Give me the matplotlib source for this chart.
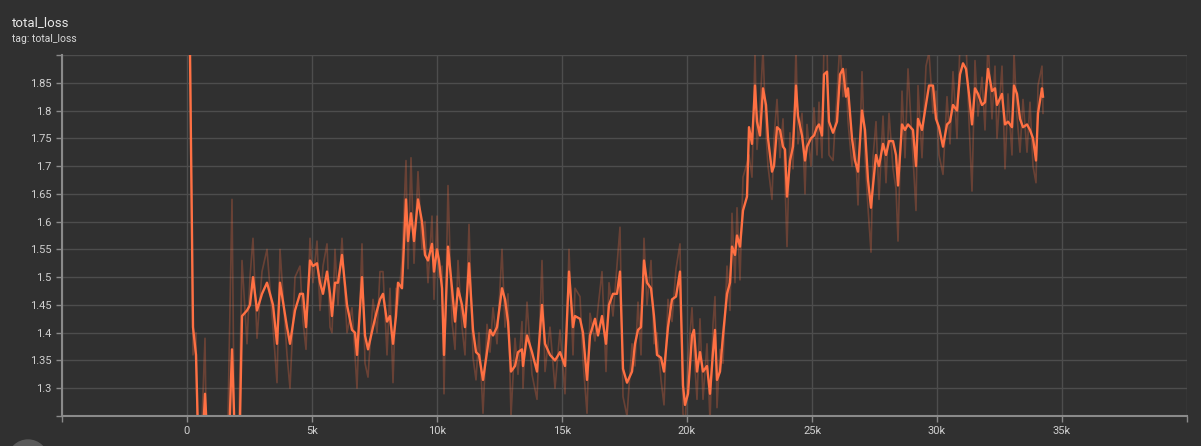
import numpy as np
import matplotlib
matplotlib.use("Agg")
import matplotlib.pyplot as plt
from matplotlib.patches import Ellipse

# smoothed total_loss (step, value)
steps = [
    0, 120, 240, 360, 440, 600, 720, 800, 1000, 1320,
    1640, 1800, 1920, 2080, 2200, 2400, 2520, 2640, 2800, 3000,
    3200, 3440, 3600, 3720, 4000, 4120, 4320, 4520, 4640, 4760,
    4920, 5040, 5200, 5320, 5440, 5600, 5720, 5800, 5920, 6040,
    6200, 6400, 6600, 6720, 6800, 7000, 7120, 7240, 7440, 7600,
    7720, 7840, 8000, 8120, 8240, 8360, 8440, 8600, 8760, 8840,
    8960, 9080, 9240, 9400, 9520, 9640, 9800, 9880, 10000, 10080,
    10200, 10280, 10440, 10600, 10720, 10840, 11000, 11120, 11280, 11440,
    11560, 11680, 11840, 12000, 12120, 12240, 12400, 12600, 12720, 12840,
    12960, 13120, 13240, 13400, 13440, 13600, 13800, 14000, 14200, 14320,
    14520, 14720, 14920, 15120, 15280, 15440, 15520, 15720, 15840, 16000,
    16120, 16320, 16440, 16600, 16760, 16880, 17040, 17200, 17320, 17440,
    17600, 17800, 17920, 18040, 18160, 18280, 18400, 18560, 18680, 18800,
    18960, 19080, 19240, 19400, 19560, 19720, 19840, 19920, 20040, 20200,
    20280, 20400, 20520, 20640, 20800, 20920, 21040, 21120, 21200, 21320,
    21440, 21600, 21720, 21800, 21920, 22000, 22120, 22240, 22400, 22480,
    22600, 22720, 22800, 22920, 23040, 23160, 23240, 23400, 23480, 23600,
    23720, 23840, 23920, 24000, 24120, 24240, 24360, 24440, 24600, 24720,
    24800, 24960, 25080, 25200, 25280, 25400, 25480, 25600, 25680, 25840,
    26000, 26120, 26240, 26360, 26440, 26600, 26720, 26840, 27000, 27120,
    27240, 27360, 27440, 27560, 27680, 27840, 27960, 28080, 28240, 28360,
    28440, 28600, 28720, 28840, 29040, 29160, 29240, 29400, 29560, 29680,
    29840, 29960, 30080, 30240, 30400, 30520, 30640, 30800, 30920, 31040,
    31160, 31280, 31400, 31520, 31640, 31800, 31920, 32040, 32200, 32320,
    32400, 32600, 32720, 32840, 33000, 33080, 33200, 33320, 33440, 33600,
    33720, 33840, 33960, 34040, 34200, 34240,
]
smoothed = [
    2.40, 1.90, 1.41, 1.36, 1.22, 1.18, 1.29, 1.22, 1.10, 1.05,
    1.15, 1.37, 1.20, 1.15, 1.43, 1.44, 1.45, 1.50, 1.44, 1.47,
    1.49, 1.45, 1.38, 1.49, 1.41, 1.38, 1.44, 1.47, 1.47, 1.41,
    1.53, 1.52, 1.525, 1.49, 1.47, 1.51, 1.47, 1.43, 1.49, 1.49,
    1.54, 1.45, 1.405, 1.40, 1.36, 1.50, 1.395, 1.37, 1.41, 1.44,
    1.46, 1.47, 1.42, 1.43, 1.38, 1.43, 1.49, 1.48, 1.64, 1.565,
    1.615, 1.565, 1.64, 1.60, 1.54, 1.53, 1.56, 1.51, 1.55, 1.53,
    1.48, 1.36, 1.555, 1.48, 1.42, 1.48, 1.45, 1.41, 1.525, 1.405,
    1.365, 1.36, 1.315, 1.365, 1.405, 1.395, 1.41, 1.48, 1.46, 1.42,
    1.33, 1.34, 1.365, 1.37, 1.34, 1.395, 1.365, 1.33, 1.45, 1.38,
    1.36, 1.35, 1.365, 1.34, 1.51, 1.41, 1.43, 1.425, 1.40, 1.315,
    1.395, 1.425, 1.395, 1.43, 1.38, 1.45, 1.47, 1.47, 1.51, 1.335,
    1.31, 1.33, 1.38, 1.405, 1.41, 1.53, 1.49, 1.48, 1.43, 1.36,
    1.355, 1.33, 1.41, 1.46, 1.465, 1.51, 1.305, 1.27, 1.29, 1.395,
    1.405, 1.33, 1.365, 1.33, 1.34, 1.29, 1.365, 1.405, 1.315, 1.33,
    1.395, 1.47, 1.49, 1.555, 1.54, 1.575, 1.555, 1.62, 1.645, 1.77,
    1.74, 1.845, 1.78, 1.755, 1.84, 1.81, 1.75, 1.69, 1.70, 1.77,
    1.765, 1.735, 1.73, 1.645, 1.71, 1.735, 1.845, 1.79, 1.755, 1.71,
    1.735, 1.75, 1.755, 1.77, 1.775, 1.755, 1.865, 1.87, 1.78, 1.76,
    1.78, 1.865, 1.875, 1.825, 1.84, 1.75, 1.71, 1.69, 1.80, 1.765,
    1.675, 1.625, 1.665, 1.72, 1.70, 1.74, 1.72, 1.745, 1.745, 1.72,
    1.665, 1.775, 1.765, 1.775, 1.765, 1.70, 1.785, 1.765, 1.81, 1.845,
    1.845, 1.785, 1.77, 1.735, 1.775, 1.78, 1.81, 1.80, 1.865, 1.885,
    1.875, 1.83, 1.775, 1.84, 1.83, 1.81, 1.815, 1.875, 1.835, 1.84,
    1.81, 1.83, 1.775, 1.78, 1.77, 1.845, 1.83, 1.785, 1.77, 1.775,
    1.765, 1.75, 1.71, 1.795, 1.84, 1.825,
]
# how far the raw (unsmoothed) points sit from the smoothed curve
raw_offset = [
    0.30, 0.05, -0.05, 0.04, -0.10, 0.06, 0.10, -0.10, 0.00, 0.05,
    0.10, 0.27, -0.10, 0.10, 0.10, -0.06, 0.05, 0.07, -0.05, 0.04,
    0.06, -0.04, -0.07, 0.06, -0.05, -0.08, 0.06, 0.05, -0.05, -0.04,
    0.04, -0.03, 0.04, -0.05, 0.05, 0.05, -0.06, -0.03, 0.06, -0.04,
    0.03, -0.05, 0.04, -0.04, -0.06, 0.06, -0.05, -0.05, 0.05, -0.04,
    0.05, 0.04, -0.06, 0.05, -0.07, 0.05, -0.04, 0.05, 0.07, -0.05,
    0.10, -0.04, 0.05, -0.05, 0.06, -0.04, 0.05, -0.05, 0.06, -0.03,
    0.04, -0.07, 0.11, -0.06, -0.05, 0.05, -0.04, -0.05, 0.07, -0.05,
    -0.05, 0.04, -0.06, 0.05, -0.04, 0.05, -0.03, 0.07, -0.05, 0.05,
    -0.08, 0.05, -0.04, 0.05, -0.04, 0.06, -0.04, -0.05, 0.08, -0.05,
    0.05, -0.05, 0.04, -0.05, 0.04, -0.05, 0.05, 0.04, -0.05, -0.06,
    0.04, -0.04, 0.05, 0.08, -0.05, 0.04, -0.04, 0.05, 0.08, -0.05,
    -0.06, 0.05, -0.04, 0.05, -0.05, 0.04, -0.04, 0.05, -0.05, 0.04,
    -0.04, -0.06, 0.05, -0.04, 0.05, 0.05, -0.05, -0.04, 0.06, 0.05,
    -0.04, -0.05, 0.06, -0.05, 0.04, -0.05, 0.05, 0.06, -0.05, 0.04,
    -0.05, 0.05, -0.05, 0.06, -0.05, 0.05, -0.06, 0.06, 0.06, -0.05,
    -0.06, 0.06, -0.05, 0.05, 0.07, -0.05, -0.05, -0.05, 0.05, 0.05,
    -0.05, 0.05, -0.06, -0.09, 0.05, -0.04, 0.07, -0.05, 0.04, -0.06,
    0.04, -0.05, 0.05, -0.05, 0.04, -0.04, 0.06, 0.05, -0.06, -0.05,
    0.05, 0.06, -0.05, 0.05, -0.06, -0.05, 0.04, -0.06, 0.07, -0.05,
    -0.05, -0.08, 0.05, 0.06, -0.06, 0.05, -0.05, 0.05, -0.05, -0.06,
    -0.10, 0.06, -0.05, 0.10, -0.05, -0.08, 0.06, -0.05, 0.07, 0.06,
    -0.05, 0.05, -0.05, -0.05, 0.05, -0.04, 0.06, -0.05, 0.06, 0.05,
    0.05, -0.05, -0.12, 0.05, -0.04, 0.05, -0.05, 0.05, -0.05, 0.04,
    -0.06, 0.05, -0.08, 0.05, -0.05, 0.06, -0.04, -0.06, 0.05, -0.05,
    0.05, -0.05, -0.04, 0.05, 0.04, -0.03,
]

x_ticks = [-5000, 0, 5000, 10000, 15000, 20000, 25000, 30000, 35000, 40000]
x_labels = ["", "0", "5k", "10k", "15k", "20k", "25k", "30k", "35k", ""]
y_ticks = [1.25, 1.3, 1.35, 1.4, 1.45, 1.5, 1.55, 1.6, 1.65, 1.7, 1.75, 1.8, 1.85, 1.9]
y_labels = ["", "1.3", "1.35", "1.4", "1.45", "1.5", "1.55", "1.6", "1.65", "1.7",
            "1.75", "1.8", "1.85", ""]

bg = "#303030"
orange = "#ff7043"

plt.rcParams["font.family"] = ["Roboto", "DejaVu Sans"]

fig = plt.figure(figsize=(12.01, 4.46), dpi=100, facecolor=bg)
ax = fig.add_axes([62 / 1201, 30 / 446, 1125 / 1201, 361 / 446])
ax.set_facecolor(bg)

s = np.array(steps)
v = np.array(smoothed)
raw = v + np.array(raw_offset)

ax.plot(s, raw, color=orange, alpha=0.28, lw=1.2)
ax.plot(s, v, color=orange, lw=1.7)

ax.set_xlim(-5000, 40000)
ax.set_ylim(1.25, 1.9)
ax.set_xticks(x_ticks)
ax.set_xticklabels(x_labels)
ax.set_yticks(y_ticks)
ax.set_yticklabels(y_labels)

ax.grid(True, color="#4d4d4d", lw=1)
ax.set_axisbelow(True)
for side in ["top", "right"]:
    ax.spines[side].set_visible(False)
for side in ["left", "bottom"]:
    ax.spines[side].set_color("#8a8a8a")
    ax.spines[side].set_linewidth(1.5)
ax.tick_params(colors="#8a8a8a", labelcolor="#d0d0d0", labelsize=8, length=4, width=1)

fig.text(12 / 1201, 1 - 23 / 446, "total_loss", color="#e8e8e8", fontsize=9.5, va="center")
fig.text(12 / 1201, 1 - 39 / 446, "tag: total_loss", color="#d8d8d8", fontsize=7.5, va="center")

# round button peeking in at the bottom-left corner
fig.patches.append(Ellipse((28 / 1201, 1 - 460 / 446), 40 / 1201, 40 / 446,
                           transform=fig.transFigure, color="#5a5a5a", clip_on=False))

fig.savefig("out.png", dpi=100, facecolor=bg)
